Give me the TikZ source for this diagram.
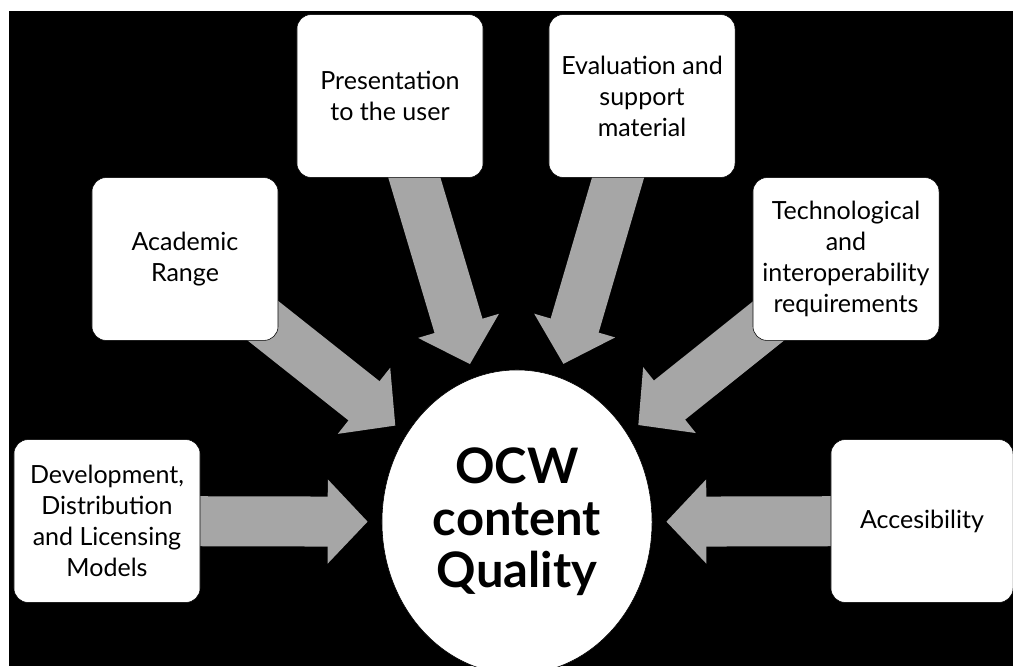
\documentclass[tikz,border=0pt]{standalone}
\usepackage{fontspec}
\setmainfont{Lato}
\usetikzlibrary{shapes.geometric,arrows.meta,backgrounds}
\definecolor{arrowgray}{RGB}{166,166,166}
\tikzset{
    box/.style = {draw = black, fill = white, rounded corners = 0.35cm, minimum width = 4.65cm, minimum height = 4.07cm, align = center, font = \fontsize{17.8}{22}\selectfont},
    bigarrow/.style = {arrowgray, line width = 1.25cm, -{Triangle[length = 1cm, width = 2.05cm]}, shorten > = 0.35cm}
}
\begin{document}
\begin{tikzpicture}[x = 0.025cm, y = -0.025cm]
    \useasboundingbox (0,0) rectangle (1013,666);
    \node[box] (pres) at (390,96) {Presentation\\to the user};
    \node[box] (eval) at (642,96) {Evaluation and\\support\\material};
    \node[box] (acad) at (185,259) {Academic\\Range};
    \node[box] (tech) at (846,259) {Technological\\and\\interoperability\\requirements};
    \node[box] (dev) at (107,521) {Development,\\Distribution\\and Licensing\\Models};
    \node[box, minimum width = 4.55cm] (acc) at (922,521) {Accesibility};
    \node[ellipse, draw = black, fill = white, inner sep = 0, minimum width = 6.75cm, minimum height = 7.6cm, align = center, font = \fontsize{34.8}{37}\selectfont\bfseries] (ocw) at (517,522) {OCW\\content\\Quality};
    \begin{scope}[on background layer]
        \fill[white] (0,0) rectangle (1013,666);
        \fill[black] (9,11) rectangle (1013,666);
        \draw[bigarrow] (dev.center) -- (ocw);
        \draw[bigarrow] (acad.center) -- (ocw);
        \draw[bigarrow] (pres.center) -- (ocw);
        \draw[bigarrow] (eval.center) -- (ocw);
        \draw[bigarrow] (tech.center) -- (ocw);
        \draw[bigarrow] (acc.center) -- (ocw);
    \end{scope}
\end{tikzpicture}
\end{document}
